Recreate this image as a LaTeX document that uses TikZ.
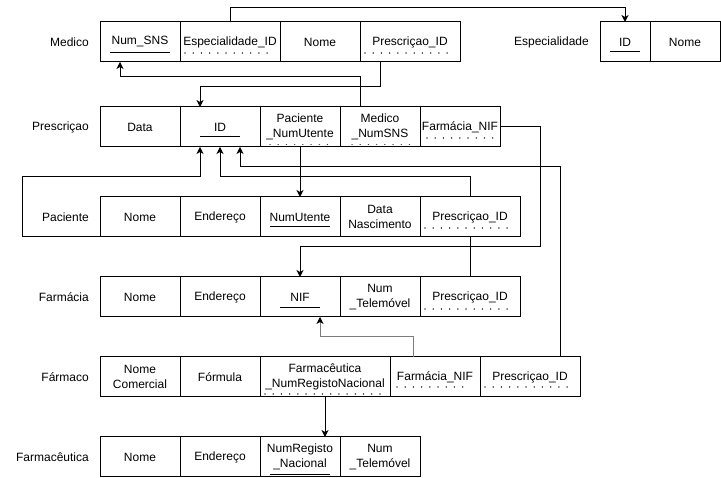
\documentclass[tikz,border=0pt]{standalone}
\usepackage{fontspec}
\setmainfont{Liberation Sans}
\usetikzlibrary{arrows.meta}
\newcommand\ulpk[4]{\draw[pk] ([xshift=#2pt-#3pt,yshift=#4pt]#1.south) -- ([xshift=#2pt+#3pt,yshift=#4pt]#1.south);}
\newcommand\ulfk[4]{\draw[fk] ([xshift=#2pt-#3pt,yshift=#4pt]#1.south) -- ([xshift=#2pt+#3pt,yshift=#4pt]#1.south);}
\begin{document}
\begin{tikzpicture}[x=1pt,y=-1pt,
 cell/.style={draw,line width=1pt,minimum height=40pt,inner sep=0pt,outer sep=0pt,align=center,anchor=north west,font=\fontsize{12}{14.5}\selectfont},
 lbl/.style={anchor=east,inner sep=0pt,font=\fontsize{12}{14.5}\selectfont},
 conn/.style={line width=1pt,-{Stealth[length=7pt,width=7pt,inset=2pt]}},
 conngray/.style={line width=1pt,draw={rgb,255:red,125;green,125;blue,125},-{Stealth[length=7pt,width=7pt,inset=2pt,black]}},
 plain/.style={line width=1pt},
 pk/.style={line width=1pt},
 fk/.style={line width=1.5pt,dash pattern=on 0.01pt off 8.2pt,line cap=round,draw={rgb,255:red,60;green,60;blue,60}}]
\fill[white] (0,0) rectangle (721,478);
\useasboundingbox (0,0) rectangle (721,478);

% Medico
\node[lbl] (mlbl) at (89,42) {Medico};
\node[cell,minimum width=80pt] (m_sns) at (100,22) {Num\_SNS};
\node[cell,minimum width=100pt] (m_esp) at (180,22) {Especialidade\_ID};
\node[cell,minimum width=80pt] (m_nome) at (280,22) {Nome};
\node[cell,minimum width=100pt] (m_presc) at (360,22) {Prescriçao\_ID};

% Especialidade
\node[lbl] (elbl) at (589,42) {Especialidade};
\node[cell,minimum width=50pt] (e_id) at (600,22) {ID};
\node[cell,minimum width=70pt] (e_nome) at (650,22) {Nome};

% Prescricao
\node[lbl] (plbl) at (89,127) {Prescriçao};
\node[cell,minimum width=80pt] (p_data) at (100,107) {Data};
\node[cell,minimum width=80pt] (p_id) at (180,107) {ID};
\node[cell,minimum width=80pt] (p_pac) at (260,107) {Paciente\\\_NumUtente};
\node[cell,minimum width=80pt] (p_med) at (340,107) {Medico\\\_NumSNS};
\node[cell,minimum width=80pt] (p_farm) at (420,107) {Farmácia\_NIF};

% Paciente
\node[lbl] (palbl) at (89,217) {Paciente};
\coordinate (pa_corner) at (22,237);
\node[cell,minimum width=80pt] (pa_nome) at (100,197) {Nome};
\node[cell,minimum width=80pt] (pa_end) at (180,197) {Endereço};
\node[cell,minimum width=80pt] (pa_num) at (260,197) {NumUtente};
\node[cell,minimum width=80pt] (pa_data) at (340,197) {Data\\Nascimento};
\node[cell,minimum width=100pt] (pa_presc) at (420,197) {Prescriçao\_ID};

% Farmacia
\node[lbl] (falbl) at (89,297) {Farmácia};
\node[cell,minimum width=80pt] (fa_nome) at (100,277) {Nome};
\node[cell,minimum width=80pt] (fa_end) at (180,277) {Endereço};
\node[cell,minimum width=80pt] (fa_nif) at (260,277) {NIF};
\node[cell,minimum width=80pt] (fa_tel) at (340,277) {Num\\\_Telemóvel};
\node[cell,minimum width=100pt] (fa_presc) at (420,277) {Prescriçao\_ID};

% Farmaco
\node[lbl] (fclbl) at (89,377) {Fármaco};
\node[cell,minimum width=80pt] (fc_nome) at (100,357) {Nome\\Comercial};
\node[cell,minimum width=80pt] (fc_form) at (180,357) {Fórmula};
\node[cell,minimum width=130pt] (fc_farm) at (260,357) {Farmacêutica\\\_NumRegistoNacional};
\node[cell,minimum width=90pt] (fc_fnif) at (390,357) {Farmácia\_NIF};
\node[cell,minimum width=100pt] (fc_presc) at (480,357) {Prescriçao\_ID};

% Farmaceutica
\node[lbl] (fblbl) at (89,457) {Farmacêutica};
\node[cell,minimum width=80pt] (fb_nome) at (100,437) {Nome};
\node[cell,minimum width=80pt] (fb_end) at (180,437) {Endereço};
\node[cell,minimum width=80pt] (fb_num) at (260,437) {NumRegisto\\\_Nacional};
\node[cell,minimum width=80pt] (fb_tel) at (340,437) {Num\\\_Telemóvel};

% primary key underlines
\ulpk{m_sns}{0}{30}{9.5}
\ulpk{p_id}{0}{20}{10}
\ulpk{e_id}{0}{15}{10}
\ulpk{pa_num}{0}{30}{10}
\ulpk{fa_nif}{0}{20}{9.5}
\ulpk{fb_num}{0}{30}{2}

% foreign key dotted underlines
\ulfk{m_esp}{0}{45}{9}
\ulfk{m_presc}{0}{45}{9}
\ulfk{p_pac}{2}{32}{2.5}
\ulfk{p_med}{4}{32}{2.5}
\ulfk{p_farm}{0}{33}{9}
\ulfk{pa_presc}{0}{45}{9}
\ulfk{fa_presc}{0}{45}{8}
\ulfk{fc_farm}{-2}{58}{3}
\ulfk{fc_fnif}{-5}{33}{10}
\ulfk{fc_presc}{0}{45}{10}

% connectors
\draw[conn] (m_esp.north) -- ++(0,-14) -| (e_id.north);
\draw[conn] ([xshift=-30pt]m_presc.south) -- ++(0,25) -| ([xshift=-20pt]p_id.north);
\draw[conn] ([xshift=-20pt]p_med.north) -- ++(0,-30) -| ([xshift=-20pt]m_sns.south);
\draw[conn] (p_pac.south) -- (pa_num.north);
\draw[conn] (pa_nome.south west) -- (pa_corner) -- ++(0,-60) -| ([xshift=-20pt]p_id.south);
\draw[conn] (pa_presc.north) -- ++(0,-20) -| (p_id.south);
\draw[conn] ([xshift=30pt]fc_presc.north) -- ++(0,-190) -| ([xshift=20pt]p_id.south);
\draw[conn] (p_farm.east) -- ++(40,0) -- ++(0,120) -| (fa_nif.north);
\draw[plain] (pa_presc.south) -- (fa_presc.north);
\draw[conngray] ([xshift=-22pt]fc_fnif.north) -- ++(0,-20) -| ([xshift=20pt]fa_nif.south);
\draw[conn] (fc_farm.south) -- (fc_farm.south |- fb_num.north);
\end{tikzpicture}
\end{document}
